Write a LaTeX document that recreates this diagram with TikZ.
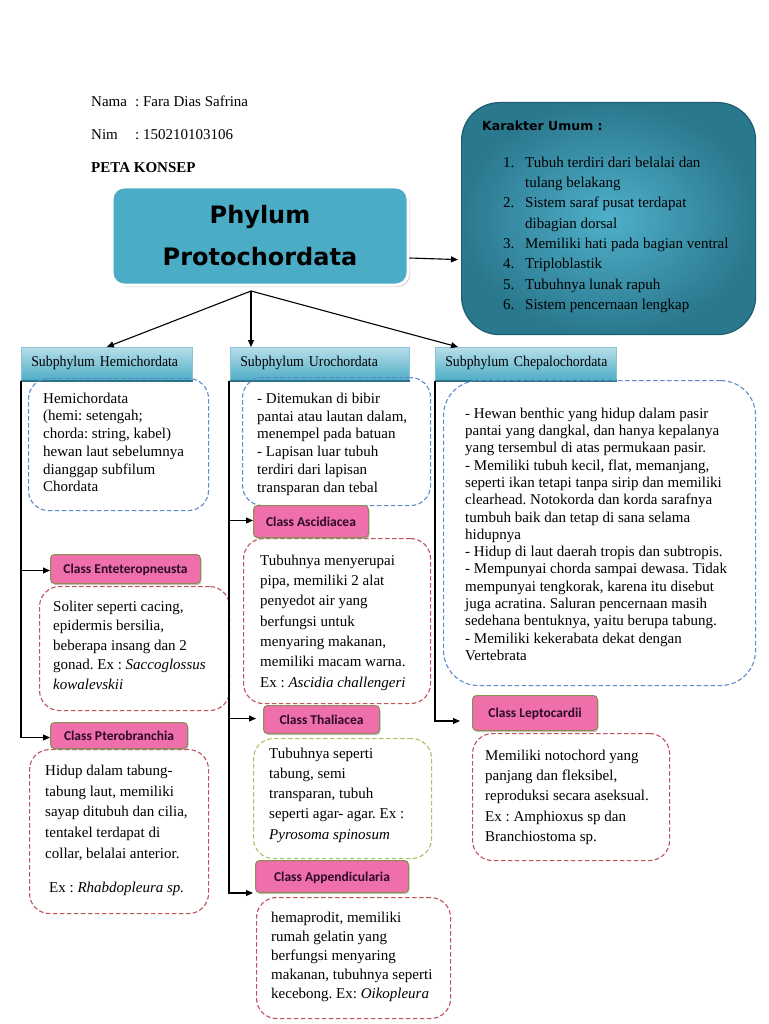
\documentclass[tikz,border=0pt]{standalone}
\usepackage{fontspec}
\setmainfont{Liberation Serif}
\newfontfamily\condserif{Liberation Serif}[FakeStretch=0.92]
\newfontfamily\heavysans{DejaVu Sans}
\newfontfamily\labelsans{Carlito}
\usetikzlibrary{shadows,arrows.meta,calc}
\definecolor{phyl}{HTML}{4BACC6}
\definecolor{karin}{HTML}{4FB0C9}
\definecolor{karout}{HTML}{2A788E}
\definecolor{karbd}{HTML}{1F5E6F}
\definecolor{subtop}{HTML}{B7DEE9}
\definecolor{subbot}{HTML}{4EADC6}
\definecolor{subedge}{HTML}{8CC3D2}
\definecolor{subline}{HTML}{2C7388}
\definecolor{dblue}{HTML}{5B8BC9}
\definecolor{dred}{HTML}{C0505A}
\definecolor{dgreen}{HTML}{A5C468}
\definecolor{pinkf}{HTML}{EE6FAA}
\definecolor{pinkbd}{HTML}{8E8C52}
\definecolor{labtxt}{HTML}{2E0A2A}
\newcommand\fstrut{\rule{0pt}{11pt}}
\frenchspacing
\begin{document}
\begin{tikzpicture}[x=1pt,y=-1pt,
  arr/.style={-{Triangle[length=7pt,width=6pt]}, line width=1.1pt, black},
  dbox/.style={draw=#1, dash pattern=on 4.5pt off 2.5pt, line width=1.1pt, rounded corners=20pt, anchor=north west, inner sep=0pt},
  clabel/.style={fill=pinkf, draw=pinkbd, line width=1pt, rounded corners=4pt, anchor=north west, inner sep=0pt,
     font=\labelsans\bfseries\fontsize{13.5}{15}\selectfont, text=labtxt, text height=9pt, text depth=0pt,
     drop shadow={shadow xshift=1pt, shadow yshift=-1.5pt, fill=black!45}},
  subhead/.style={anchor=north west, minimum height=33pt, top color=subtop, bottom color=subbot, draw=subedge, line width=0.6pt,
     inner xsep=10pt, inner ysep=0pt, align=left, font=\condserif\fontsize{15}{16}\selectfont, text height=10pt, text depth=5pt},
  txtblk/.style={anchor=north west, inner sep=0pt, align=left},
  hdr/.style={anchor=base west, inner sep=0pt, font=\fontsize{15}{18}\selectfont}
]
\useasboundingbox (0,0) rectangle (768,1024);
\fill[white] (0,0) rectangle (768,1024);

% header text
\node[hdr] (nama) at (91,107) {\makebox[44pt][l]{Nama}: Fara Dias Safrina};
\node[hdr] (nim) at (91,140) {\makebox[44pt][l]{Nim}: 150210103106};
\node[hdr, font=\bfseries\fontsize{15}{18}\selectfont] (peta) at (91,173) {PETA KONSEP};

% phylum box
\node[fill=phyl, draw=white, line width=3pt, rounded corners=12pt, minimum width=296pt, minimum height=98pt,
  align=center, font=\heavysans\bfseries\fontsize{24}{42}\selectfont,
  drop shadow={shadow xshift=2pt, shadow yshift=-2pt, fill=black!35}] (phyl) at (260,236) {Phylum\\Protochordata};

% karakter umum box
\node[anchor=north west, minimum width=294pt, minimum height=232pt, rounded corners=38pt, inner color=karin, outer color=karout,
  draw=karbd, line width=1.2pt] (kar) at (461,102) {};
\node[anchor=base west, inner sep=0pt, font=\heavysans\bfseries\fontsize{12.5}{15}\selectfont] (kartitle) at (482,131) {Karakter Umum :};
\node[txtblk, font=\fontsize{15}{20.3}\selectfont] (karlist) at (503,156) {\fstrut\makebox[22pt][l]{1.}Tubuh terdiri dari belalai dan\\
\hspace*{22pt}tulang belakang\\
\makebox[22pt][l]{2.}Sistem saraf pusat terdapat\\
\hspace*{22pt}dibagian dorsal\\
\makebox[22pt][l]{3.}Memiliki hati pada bagian ventral\\
\makebox[22pt][l]{4.}Triploblastik\\
\makebox[22pt][l]{5.}Tubuhnya lunak rapuh\\
\makebox[22pt][l]{6.}Sistem pencernaan lengkap};

\draw[arr] ($(phyl.east)+(0,22)$) -- ($(kar.west)+(-3,41)$);

% subphylum headers
\node[subhead, text width=151pt] (hemi) at (21,347) {Subphylum Hemichordata};
\node[subhead, text width=159pt] (uro) at (230,347) {Subphylum Urochordata};
\node[subhead, text width=161pt] (chep) at (435,347) {\mbox{Subphylum Chepalochordata}};
\foreach \h in {hemi,uro,chep}{\draw[subline, line width=1.8pt] (\h.south west) -- (\h.south east);}

\coordinate (apex) at (251,291);
\draw[arr] (apex) -- (hemi.north);
\draw[arr] (apex) -- (apex |- uro.north);
\draw[arr] (apex) -- ($(chep.north west)+(23,0)$);

% description boxes
\node[dbox=dblue, minimum width=180pt, minimum height=132pt] (hemibox) at (28,378) {};
\node[dbox=dred, minimum width=190pt, minimum height=124pt] (entbox) at (39,586) {};
\node[dbox=dred, minimum width=179pt, minimum height=164pt] (ptbox) at (29,749) {};
\node[dbox=dblue, minimum width=188pt, minimum height=128pt] (urobox) at (242,377) {};
\node[dbox=dred, minimum width=187pt, minimum height=165pt] (ascbox) at (243,538) {};
\node[dbox=dgreen, minimum width=178pt, minimum height=120pt] (thalbox) at (253,738) {};
\node[dbox=dred, minimum width=194pt, minimum height=121pt] (appbox) at (256,897) {};
\node[dbox=dblue, minimum width=312pt, minimum height=305pt, rounded corners=35pt] (chepbox) at (443,380) {};
\node[dbox=dred, minimum width=197pt, minimum height=127pt] (lepbox) at (472,733) {};

% class labels
\node[clabel, minimum width=150pt, minimum height=29pt] (entlab) at (50,554) {Class Enteteropneusta};
\node[clabel, minimum width=137pt, minimum height=26pt] (ptlab) at (50,722) {Class Pterobranchia};
\node[clabel, minimum width=115pt, minimum height=32pt] (asclab) at (253,505) {Class Ascidiacea};
\node[clabel, minimum width=116pt, minimum height=28pt] (thallab) at (263,705) {Class Thaliacea};
\node[clabel, minimum width=153pt, minimum height=32pt] (applab) at (255,860) {Class Appendicularia};
\node[clabel, minimum width=125pt, minimum height=35pt] (leplab) at (472,695) {Class Leptocardii};

% connectors
\draw[arr] (hemi.south west) |- ($(entlab.west)+(0,1.5)$);
\draw[arr] (hemi.south west) |- ($(ptlab.west)+(0,2)$);
\draw[arr] ($(uro.south west)+(-1,0)$) |- ($(asclab.west)+(0,-1)$);
\draw[arr] ($(uro.south west)+(-1,0)$) |- ($(thallab.west)+(-7,-1)$);
\draw[arr] ($(uro.south west)+(-1,0)$) |- ($(applab.south west)+(-2,0)$);
\draw[arr] (chep.south west) |- ($(leplab.west)+(-12,8)$);

% texts
\node[txtblk, font=\fontsize{15}{17.7}\selectfont] (hemitxt) at (43,392) {\fstrut Hemichordata\\(hemi: setengah;\\chorda: string, kabel)\\hewan laut sebelumnya\\dianggap subfilum\\Chordata};
\node[txtblk, font=\fontsize{15}{19.5}\selectfont] (enttxt) at (53,600) {\fstrut Soliter seperti cacing,\\epidermis bersilia,\\beberapa insang dan 2\\gonad. Ex : \textit{Saccoglossus}\\\textit{kowalevskii}};
\node[txtblk, font=\fontsize{15}{20.8}\selectfont] (pttxt) at (45,764) {\fstrut Hidup dalam tabung-\\tabung laut, memiliki\\sayap ditubuh dan cilia,\\tentakel terdapat di\\collar, belalai anterior.\\[13pt]\hspace*{4pt}Ex : \textit{Rhabdopleura sp.}};
\node[txtblk, font=\fontsize{15}{17.8}\selectfont] (urotxt) at (257,392) {\fstrut - Ditemukan di bibir\\pantai atau lautan dalam,\\menempel pada batuan\\- Lapisan luar tubuh\\terdiri dari lapisan\\transparan dan tebal};
\node[txtblk, font=\fontsize{15}{20.3}\selectfont] (asctxt) at (260,554) {\fstrut Tubuhnya menyerupai\\pipa, memiliki 2 alat\\penyedot air yang\\berfungsi untuk\\menyaring makanan,\\memiliki macam warna.\\Ex : \textit{Ascidia challengeri}};
\node[txtblk, font=\fontsize{15}{20.2}\selectfont] (thaltxt) at (269,747) {\fstrut Tubuhnya seperti\\tabung, semi\\transparan, tubuh\\seperti agar- agar. Ex :\\\textit{Pyrosoma spinosum}};
\node[txtblk, font=\fontsize{15}{19}\selectfont] (apptxt) at (271,911) {\fstrut hemaprodit, memiliki\\rumah gelatin yang\\berfungsi menyaring\\makanan, tubuhnya seperti\\kecebong. Ex: \textit{Oikopleura}};
\node[txtblk, font=\fontsize{15}{17.3}\selectfont] (cheptxt) at (465,407) {\fstrut - Hewan benthic yang hidup dalam pasir\\pantai yang dangkal, dan hanya kepalanya\\yang tersembul di atas permukaan pasir.\\- Memiliki tubuh kecil, flat, memanjang,\\seperti ikan tetapi tanpa sirip dan memiliki\\clearhead. Notokorda dan korda sarafnya\\tumbuh baik dan tetap di sana selama\\hidupnya\\- Hidup di laut daerah tropis dan subtropis.\\- Mempunyai chorda sampai dewasa. Tidak\\mempunyai tengkorak, karena itu disebut\\juga acratina. Saluran pencernaan masih\\sedehana bentuknya, yaitu berupa tabung.\\- Memiliki kekerabata dekat dengan\\Vertebrata};
\node[txtblk, font=\fontsize{15}{20.3}\selectfont] (leptxt) at (485,749) {\fstrut Memiliki notochord yang\\panjang dan fleksibel,\\reproduksi secara aseksual.\\Ex : Amphioxus sp dan\\Branchiostoma sp.};
\end{tikzpicture}
\end{document}
